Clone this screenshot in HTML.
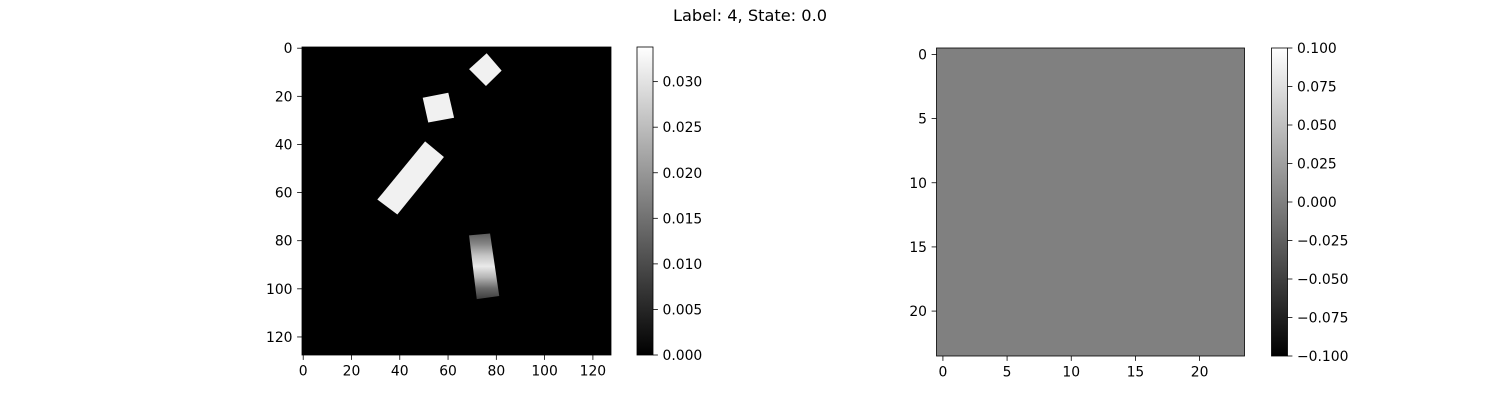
<!DOCTYPE html>
<html><head><meta charset="utf-8"><style>
html,body{margin:0;padding:0;background:#fff;}
svg{display:block;font-family:"DejaVu Sans","Liberation Sans",sans-serif;}
</style></head><body>
<svg id="fig" width="1500" height="400" viewBox="0 0 1500 400" xmlns="http://www.w3.org/2000/svg">
<text x="750" y="21" text-anchor="middle" font-size="16.2" fill="#000">Label: 4, State: 0.0</text>
<defs>
<linearGradient id="cbL" x1="0" y1="1" x2="0" y2="0"><stop offset="0" stop-color="#000"/><stop offset="1" stop-color="#fff"/></linearGradient>
<linearGradient id="cbR" x1="0" y1="1" x2="0" y2="0"><stop offset="0" stop-color="#000"/><stop offset="1" stop-color="#fff"/></linearGradient>
</defs>
</svg>
<script>
// ---- data (image coordinates, value units) ----
const leftXTicks = [0,20,40,60,80,100,120];
const leftYTicks = [0,20,40,60,80,100,120];
const leftSize = 128;
const leftVmax = 0.0338;
const cbLeftTicks = [0.000,0.005,0.010,0.015,0.020,0.025,0.030];
const shapeDiamond = [[76.0,2.1],[82.2,9.3],[75.7,15.7],[68.7,8.7]];
const shapeSquare = [[49.5,20.6],[60.1,18.5],[62.5,28.9],[51.8,30.9]];
const shapeRect = [[50.5,38.7],[58.3,45.2],[39.0,69.1],[30.7,62.9]];
const shapeBar = [[68.7,77.8],[77.4,77.0],[81.2,103.0],[71.9,104.3]];
const solidValue = 0.032;
const barProfile = [0.012,0.018,0.026,0.031,0.024,0.014,0.008];
const rightXTicks = [0,5,10,15,20];
const rightYTicks = [0,5,10,15,20];
const rightSize = 24;
const rightValue = 0.0;
const cbRightTicks = [-0.100,-0.075,-0.050,-0.025,0.000,0.025,0.050,0.075,0.100];

const NS='http://www.w3.org/2000/svg';
const svg=document.getElementById('fig');
function mk(tag,attrs,parent){const e=document.createElementNS(NS,tag);for(const k in attrs)e.setAttribute(k,attrs[k]);(parent||svg).appendChild(e);return e;}
function gray(v,vmin,vmax){let t=Math.max(0,Math.min(1,(v-vmin)/(vmax-vmin)));const c=Math.round(t*255);return `rgb(${c},${c},${c})`;}
function fmt(v,d){const s=Math.abs(v).toFixed(d);return (v<0?'\u2212':'')+s;}
const FS=13.9;

function axes(L,T,W,H,n,xt,yt,prefix){
  const sx=v=>L+(v+0.5)*W/n, sy=v=>T+(v+0.5)*H/n;
  xt.forEach(v=>{
    const x=sx(v);
    const l=mk('line',{x1:x,y1:T+H,x2:x,y2:T+H+4.9,stroke:'#000','stroke-width':0.8});
    
    
    const t=mk('text',{x:x,y:T+H+20.5,'text-anchor':'middle','font-size':FS});
    t.textContent=v;
    
    
  });
  yt.forEach(v=>{
    const y=sy(v);
    const l=mk('line',{x1:L-4.9,y1:y,x2:L,y2:y,stroke:'#000','stroke-width':0.8});
    
    
    const t=mk('text',{x:L-9.5,y:y+5,'text-anchor':'end','font-size':FS});
    t.textContent=v;
    
    
  });
  return {sx,sy};
}
function colorbar(L,T,W,H,vmin,vmax,ticks,grad,dec,prefix){
  const r=mk('rect',{x:L,y:T,width:W,height:H,fill:'url(#'+grad+')',stroke:'#000','stroke-width':0.8});
  
  
  ticks.forEach(v=>{
    const y=T+H-(v-vmin)/(vmax-vmin)*H;
    const l=mk('line',{x1:L+W,y1:y,x2:L+W+4.9,y2:y,stroke:'#000','stroke-width':0.8});
    
    
    const t=mk('text',{x:L+W+9.5,y:y+5,'font-size':FS});
    t.textContent=fmt(v,dec);
    
    
  });
}

// Left image
const LL=302,LT=47,LW=309,LH=308;
const bg=mk('rect',{x:LL,y:LT,width:LW,height:LH,fill:gray(0,0,leftVmax)});


const lax=axes(LL,LT,LW,LH,leftSize,leftXTicks,leftYTicks,'left');
[['diamond',shapeDiamond],['square',shapeSquare],['rectangle',shapeRect]].forEach(([nm,pts])=>{
  const p=mk('polygon',{points:pts.map(q=>lax.sx(q[0])+','+lax.sy(q[1])).join(' '),fill:gray(solidValue,0,leftVmax)});
  
  
});
const defs=svg.querySelector('defs');
const gb=mk('linearGradient',{id:'barGrad',x1:0,y1:0,x2:0,y2:1},defs);
barProfile.forEach((v,i)=>mk('stop',{offset:i/(barProfile.length-1),'stop-color':gray(v,0,leftVmax)},gb));
const bp=mk('polygon',{points:shapeBar.map(q=>lax.sx(q[0])+','+lax.sy(q[1])).join(' '),fill:'url(#barGrad)'});


const lf=mk('rect',{x:LL,y:LT,width:LW,height:LH,fill:'none',stroke:'#000','stroke-width':0.8});


colorbar(637,47,16,308,0,leftVmax,cbLeftTicks,'cbL',3,'left');

// Right image
const RL=936.5,RT=48,RW=308,RH=308;
const rb=mk('rect',{x:RL,y:RT,width:RW,height:RH,fill:gray(rightValue,-0.1,0.1)});


axes(RL,RT,RW,RH,rightSize,rightXTicks,rightYTicks,'right');
const rf=mk('rect',{x:RL,y:RT,width:RW,height:RH,fill:'none',stroke:'#000','stroke-width':0.8});


colorbar(1271.5,48,16,308,-0.1,0.1,cbRightTicks,'cbR',3,'right');
</script>
</body></html>
